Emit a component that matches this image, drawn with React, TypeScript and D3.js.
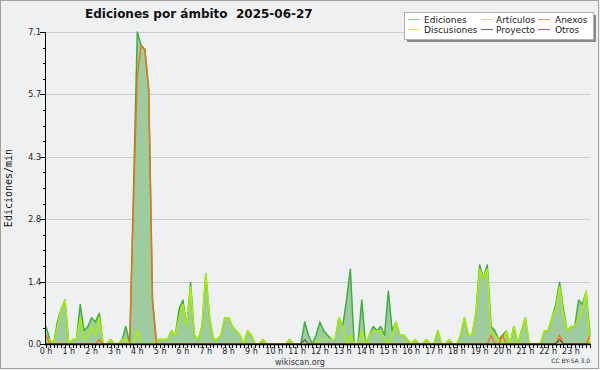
import React from "react";
import * as d3 from "d3";

// 10-minute samples, one row per hour (0 h … 23 h), edits per minute
const TOTAL: number[] = [
  0.4, 0.1, 0.0, 0.5, 0.8, 1.0,
  0.0, 0.1, 0.1, 0.9, 0.3, 0.4,
  0.6, 0.5, 0.7, 0.0, 0.0, 0.1,
  0.0, 0.0, 0.1, 0.4, 0.0, 3.5,
  7.1, 6.8, 6.7, 5.8, 1.0, 0.1,
  0.1, 0.1, 0.1, 0.3, 0.2, 0.8,
  1.0, 0.4, 1.4, 0.2, 0.1, 0.4,
  1.6, 0.6, 0.1, 0.1, 0.2, 0.6,
  0.6, 0.4, 0.3, 0.2, 0.0, 0.3,
  0.2, 0.0, 0.0, 0.1, 0.0, 0.0,
  0.0, 0.0, 0.0, 0.0, 0.1, 0.0,
  0.0, 0.0, 0.5, 0.2, 0.0, 0.2,
  0.5, 0.3, 0.2, 0.1, 0.1, 0.6,
  0.4, 1.0, 1.7, 0.0, 0.0, 1.0,
  0.0, 0.2, 0.4, 0.3, 0.4, 0.2,
  1.2, 0.3, 0.5, 0.2, 0.2, 0.1,
  0.0, 0.1, 0.0, 0.0, 0.1, 0.0,
  0.0, 0.3, 0.0, 0.0, 0.1, 0.0,
  0.0, 0.2, 0.6, 0.2, 0.2, 0.7,
  1.8, 1.5, 1.8, 0.4, 0.3, 0.1,
  0.2, 0.3, 0.0, 0.4, 0.0, 0.3,
  0.6, 0.0, 0.0, 0.0, 0.0, 0.3,
  0.3, 0.6, 0.9, 1.4, 0.8, 0.3,
  0.4, 0.4, 1.0, 0.9, 1.2, 0.2,
];

const ARTICULOS: number[] = [
  0.1, 0.1, 0.0, 0.4, 0.8, 1.0,
  0.0, 0.1, 0.1, 0.6, 0.1, 0.2,
  0.4, 0.2, 0.6, 0.0, 0.0, 0.1,
  0.0, 0.0, 0.1, 0.1, 0.0, 0.0,
  0.3, 0.0, 0.0, 0.0, 0.0, 0.1,
  0.1, 0.1, 0.1, 0.3, 0.2, 0.6,
  0.9, 0.4, 1.3, 0.2, 0.1, 0.4,
  1.6, 0.6, 0.1, 0.1, 0.2, 0.6,
  0.6, 0.4, 0.3, 0.2, 0.0, 0.3,
  0.2, 0.0, 0.0, 0.1, 0.0, 0.0,
  0.0, 0.0, 0.0, 0.0, 0.1, 0.0,
  0.0, 0.0, 0.0, 0.0, 0.0, 0.0,
  0.1, 0.1, 0.1, 0.1, 0.1, 0.6,
  0.4, 0.0, 0.2, 0.0, 0.0, 0.3,
  0.0, 0.2, 0.3, 0.3, 0.3, 0.1,
  0.0, 0.2, 0.5, 0.2, 0.2, 0.1,
  0.0, 0.1, 0.0, 0.0, 0.1, 0.0,
  0.0, 0.3, 0.0, 0.0, 0.1, 0.0,
  0.0, 0.2, 0.6, 0.2, 0.2, 0.7,
  1.7, 1.5, 1.7, 0.2, 0.2, 0.1,
  0.0, 0.3, 0.0, 0.4, 0.0, 0.3,
  0.6, 0.0, 0.0, 0.0, 0.0, 0.3,
  0.3, 0.6, 0.8, 1.3, 0.7, 0.3,
  0.4, 0.4, 0.6, 0.8, 1.2, 0.0,
];

const ANEXOS: number[] = [
  0.2, 0, 0, 0, 0, 0,
  0, 0, 0, 0, 0, 0,
  0, 0, 0.1, 0, 0, 0,
  0, 0, 0, 0, 0, 3.2,
  6.1, 6.8, 6.7, 5.8, 1.0, 0,
  0, 0, 0, 0, 0, 0,
  0, 0, 0, 0, 0, 0,
  0, 0, 0, 0, 0, 0,
  0, 0, 0, 0, 0, 0,
  0, 0, 0, 0, 0, 0,
  0, 0, 0, 0, 0, 0,
  0, 0, 0, 0, 0, 0,
  0, 0, 0, 0, 0, 0,
  0, 0, 0, 0, 0, 0,
  0, 0, 0, 0, 0, 0,
  0, 0, 0, 0, 0, 0,
  0, 0, 0, 0, 0, 0,
  0, 0, 0, 0, 0, 0,
  0, 0, 0, 0, 0, 0,
  0, 0, 0, 0.2, 0, 0,
  0.2, 0, 0, 0, 0, 0,
  0, 0, 0, 0, 0, 0,
  0, 0, 0, 0.2, 0, 0,
  0, 0, 0, 0, 0, 0.2,
];

const PROYECTO: number[] = [
  0, 0, 0, 0, 0, 0,
  0, 0, 0, 0, 0, 0,
  0, 0, 0, 0, 0, 0,
  0, 0, 0, 0, 0, 0,
  0, 0, 0, 0, 0, 0,
  0, 0, 0, 0, 0, 0,
  0, 0, 0, 0, 0, 0,
  0, 0, 0, 0, 0, 0,
  0, 0, 0, 0, 0, 0,
  0, 0, 0, 0, 0, 0,
  0, 0, 0, 0, 0, 0,
  0, 0, 0.1, 0, 0, 0,
  0, 0, 0, 0, 0, 0,
  0, 0, 0, 0, 0, 0,
  0, 0, 0, 0, 0, 0,
  0, 0, 0, 0, 0, 0,
  0, 0, 0, 0, 0, 0,
  0, 0, 0, 0, 0, 0,
  0, 0, 0, 0, 0, 0,
  0, 0, 0, 0, 0, 0,
  0, 0, 0, 0, 0, 0,
  0, 0, 0, 0, 0, 0,
  0, 0, 0, 0.1, 0, 0,
  0, 0, 0, 0, 0, 0,
];

const HOUR_LABELS: string[] = Array.from({ length: 24 }, (_, h) => `${h} h`);
const Y_TICKS: number[] = [0, 1.42, 2.84, 4.26, 5.68, 7.1];
const Y_MAX = 7.1;

const LEGEND = [
  { label: "Ediciones", color: "#8fd08f", col: 0, row: 0 },
  { label: "Artículos", color: "#ccee55", col: 1, row: 0 },
  { label: "Anexos", color: "#ff8a5c", col: 2, row: 0 },
  { label: "Discusiones", color: "#ffdd55", col: 0, row: 1 },
  { label: "Proyecto", color: "#666666", col: 1, row: 1 },
  { label: "Otros", color: "#9955ee", col: 2, row: 1 },
];

const W = 600;
const H = 370;
const X0 = 46;
const X1 = 590;
const Y0 = 344;
const Y1 = 32;
const AXIS_X = 45;
const FONT = "DejaVu Sans, sans-serif";

export default function App() {
  const n = TOTAL.length;
  const x = d3.scaleLinear().domain([0, (n - 1) / 6]).range([X0, X1]);
  const y = d3.scaleLinear().domain([0, Y_MAX]).range([Y0, Y1]);
  const t = (i: number) => i / 6;

  const area = d3
    .area<number>()
    .x((_, i) => x(t(i)))
    .y0(y(0))
    .y1((d) => y(d));
  const line = d3
    .line<number>()
    .x((_, i) => x(t(i)))
    .y((d) => y(d));

  const minorY: number[] = d3.range(0, Y_MAX + 0.001, Y_MAX / 20);
  const xTicks: number[] = d3.range(0, n).map((i) => t(i));

  const legCol = [408, 481, 538];
  const legTxt = [424, 496, 555];
  const legRow = [19, 29];

  return (
    <svg
      width={W}
      height={H}
      style={{ position: "absolute", left: 0, top: 0, display: "block" }}
      fontFamily={FONT}
    >
      <rect x={0} y={0} width={W} height={H} fill="#eff0f2" />
      <rect x={0.5} y={0.5} width={598} height={368} fill="none" stroke="#a0a0a0" />

      {/* grid */}
      {Y_TICKS.map((v, k) => (
        <line key={k} x1={AXIS_X} x2={X1} y1={Math.round(y(v)) + 0.5} y2={Math.round(y(v)) + 0.5} stroke="#cccccc" strokeWidth={1} />
      ))}

      {/* series */}
      <path d={area(TOTAL) || ""} fill="#9fcc9f" stroke="none" />
      <path d={line(TOTAL) || ""} fill="none" stroke="#3fae3f" strokeWidth={1.5} strokeLinejoin="round" />
      <path d={line(ARTICULOS) || ""} fill="none" stroke="#aaf000" strokeWidth={1.5} strokeLinejoin="round" />
      <path d={line(ANEXOS) || ""} fill="none" stroke="#ff6a10" strokeWidth={1.3} strokeLinejoin="round" />
      <path d={line(PROYECTO) || ""} fill="none" stroke="#222222" strokeWidth={1} strokeLinejoin="round" />

      {/* y axis */}
      <line x1={AXIS_X + 0.5} x2={AXIS_X + 0.5} y1={Y1} y2={Y0 + 1} stroke="#000" />
      {minorY.map((v, k) => (
        <line key={k} x1={AXIS_X - 2} x2={AXIS_X + 1} y1={Math.round(y(v)) + 0.5} y2={Math.round(y(v)) + 0.5} stroke="#000" />
      ))}
      {Y_TICKS.map((v, k) => (
        <g key={k}>
          <line x1={AXIS_X - 5} x2={AXIS_X + 1} y1={Math.round(y(v)) + 0.5} y2={Math.round(y(v)) + 0.5} stroke="#000" />
          <text x={AXIS_X - 4} y={y(v) + 3} fontSize={8} textAnchor="end" fill="#222">
            {v.toFixed(1)}
          </text>
        </g>
      ))}
      <text
        transform={`translate(12,188) rotate(-90)`}
        fontSize={10}
        fontFamily="DejaVu Sans Mono, monospace"
        textAnchor="middle"
        fill="#111"
      >
        Ediciones/min
      </text>

      {/* x axis */}
      <line x1={AXIS_X} x2={X1 + 1} y1={Y0 + 0.5} y2={Y0 + 0.5} stroke="#000" strokeWidth={1.5} />
      {xTicks.map((v, k) => (
        <line key={k} x1={Math.round(x(v)) + 0.5} x2={Math.round(x(v)) + 0.5} y1={Y0} y2={Y0 + 4} stroke="#000" />
      ))}
      {HOUR_LABELS.map((lab, h) => (
        <text key={h} x={x(h)} y={354} fontSize={8} textAnchor="middle" fill="#222">
          {lab}
        </text>
      ))}

      {/* title */}
      <text x={85} y={18} fontSize={12} fontWeight="bold" fill="#111" style={{ whiteSpace: "pre" }}>
        {"Ediciones por ámbito  2025-06-27"}
      </text>

      {/* legend */}
      <rect x={407} y={15} width={189} height={27} fill="#8a8a8a" />
      <rect x={404.5} y={12.5} width={189} height={27} fill="#ffffff" stroke="#b0b0b0" />
      {LEGEND.map((e, k) => (
        <g key={k}>
          <line x1={legCol[e.col]} x2={legCol[e.col] + 12} y1={legRow[e.row] + 0.5} y2={legRow[e.row] + 0.5} stroke={e.color} strokeWidth={1} />
          <text x={legTxt[e.col]} y={legRow[e.row] + 3.5} fontSize={9} fill="#222">
            {e.label}
          </text>
        </g>
      ))}

      {/* footer */}
      <text x={300} y={365} fontSize={8} textAnchor="middle" fill="#333">
        wikiscan.org
      </text>
      <text x={590} y={363} fontSize={6} textAnchor="end" fill="#333">
        CC BY-SA 3.0
      </text>
    </svg>
  );
}
